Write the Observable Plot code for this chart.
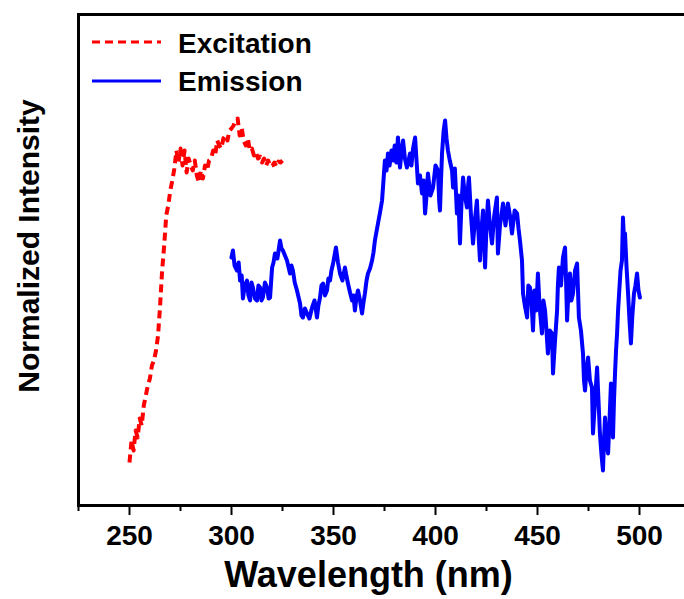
<!DOCTYPE html>
<html><head><meta charset="utf-8">
<script src="https://cdn.jsdelivr.net/npm/d3@7"></script>
<script src="https://cdn.jsdelivr.net/npm/@observablehq/plot@0.6"></script>
<style>
body{margin:0;background:#fff;overflow:hidden}
#chart{width:684px;height:599px;overflow:hidden}
</style>
</head><body><div id="chart"></div>
<script>
// ---- data ----
const excitationWavelength = [250,251,252,253,254,255,256,257,258,259,260,261,262,263,264,265,266,267,268,269,270,271,272,273,274,275,276,277,278,279,280,281,282,283,284,285,286,287,288,289,290,291,292,293,294,295,296,297,298,299,300,301,302,303,304,305,306,307,308,309,310,311,312,313,314,315,316,317,318,319,320,321,322,323,324,325];
const excitationIntensity = [43,65,55,75,68,87,80,100,110,120,127,140,145,155,170,200,235,260,290,300,315,325,337,355,343,357,340,355,333,347,340,335,345,330,323,335,327,340,335,345,347,355,350,365,360,357,367,370,365,375,377,380,385,387,370,377,365,360,367,355,357,350,353,347,349,343,347,340,345,339,340,343,339,344,343,345];

const emission = [
[300.0,248],[300.7,255],[301.5,240],[302.7,235],[303.5,243],[304.2,225],[305.0,230],[305.6,207],[306.5,220],[307.6,225],
[308.3,210],[309.1,205],[309.8,223],[310.5,218],[311.5,207],[312.5,205],[313.2,220],[314.0,218],[314.7,205],[315.4,208],
[316.4,223],[317.4,218],[318.2,207],[318.9,208],[319.9,238],[320.6,243],[321.3,252],[322.5,247],[323.8,265],[324.5,257],
[325.2,255],[326.2,250],[327.2,245],[328.7,232],[329.4,240],[330.1,235],[331.0,223],[332.1,215],[333.6,202],[334.3,190],
[335.0,188],[336.0,197],[337.0,192],[338.2,187],[339.5,198],[340.7,205],[341.9,188],[342.6,200],[343.4,208],[344.1,220],
[344.9,222],[345.8,210],[346.8,215],[347.5,227],[348.3,225],[349.0,235],[349.8,242],[350.5,250],[351.2,258],[352.2,243],
[353.2,232],[354.4,225],[355.6,238],[356.3,230],[357.1,222],[358.1,213],[359.1,205],[359.8,210],[360.5,195],[361.2,207],
[362.0,215],[363.0,205],[364.0,192],[364.7,203],[365.4,212],[366.2,225],[366.9,232],[367.9,237],[368.9,245],[369.6,253],
[370.3,265],[371.0,273],[371.8,282],[372.8,293],[373.8,305],[374.5,325],[375.2,345],[376.0,335],[376.7,352],[377.5,340],
[378.4,355],[379.2,345],[380.0,360],[380.8,343],[381.6,368],[382.2,350],[382.6,338],[383.4,355],[384.1,365],[385.0,347],
[386.0,338],[386.8,345],[387.5,352],[388.2,340],[389.0,357],[390.0,368],[390.7,345],[391.4,322],[392.4,330],[393.4,312],
[394.2,325],[394.9,292],[395.6,310],[396.3,332],[397.5,310],[398.8,318],[400.0,340],[401.2,335],[401.8,305],[402.2,295],
[402.7,325],[403.2,352],[404.0,375],[404.7,385],[405.4,367],[406.1,355],[407.0,345],[408.1,335],[408.6,318],[409.5,337],
[410.5,292],[411.2,310],[412.0,262],[412.7,300],[413.5,328],[414.4,310],[415.4,298],[416.0,320],[416.4,328],[417.4,290],
[418.4,262],[419.3,285],[420.3,305],[421.0,275],[421.8,245],[422.5,275],[423.3,295],[424.3,238],[425.0,280],[425.7,305],
[426.7,280],[427.7,262],[428.8,290],[430.1,308],[430.6,252],[431.6,280],[433.1,302],[434.3,280],[435.5,302],[436.5,290],
[437.5,272],[438.8,295],[440.0,292],[440.7,277],[441.4,265],[442.4,245],[442.9,212],[443.8,200],[444.9,188],[445.5,220],
[446.3,218],[447.0,205],[447.8,175],[448.5,215],[449.4,195],[450.2,232],[451.0,200],[452.2,172],[452.9,205],[453.7,195],
[454.4,175],[455.1,152],[456.0,175],[457.1,172],[457.6,132],[458.6,165],[459.6,195],[460.0,220],[460.5,238],[461.5,220],
[462.5,248],[463.5,258],[464.0,225],[464.5,185],[465.2,215],[465.9,232],[466.6,205],[467.4,212],[468.4,235],[469.4,242],
[470.3,188],[471.3,175],[472.3,152],[472.8,125],[473.3,115],[474.0,135],[474.8,148],[475.7,125],[476.7,118],[477.2,72],
[478.2,105],[479.2,138],[479.9,105],[480.6,72],[481.4,50],[482.1,35],[482.6,65],[483.1,88],[483.8,65],[484.6,52],
[485.3,85],[486.0,122],[486.5,95],[487.0,68],[487.5,105],[488.0,132],[488.5,155],[489.0,172],[489.5,195],[490.0,212],
[490.7,235],[491.4,245],[491.9,288],[492.4,265],[492.9,272],[493.6,240],[494.4,212],[495.1,185],[495.8,162],[496.5,190],
[497.3,212],[498.0,220],[498.8,232],[499.5,215],[500.2,208]
];

const majorTicks = [250,300,350,400,450,500];
const minorTicks = [225,275,325,375,425,475,525];
const xDomain = [225,525];
const yDomain = [0,491];
const seriesNames = ["Excitation","Emission"];
const seriesColors = ["#ff0000","#0000ff"];
const xTitle = "Wavelength (nm)";
const yTitle = "Normalized Intensity";

const excitation = excitationWavelength.map((w,i)=>({w, v: excitationIntensity[i]}));
const emissionData = emission.map(([w,v])=>({w, v}));

const FONT = "'Liberation Sans', Arial, Helvetica, sans-serif";

const chart = Plot.plot({
  width: 684, height: 599,
  marginLeft: 78, marginRight: -6, marginTop: 14, marginBottom: 94,
  style: {fontFamily: FONT, fontWeight: "bold", background: "#fff", color: "#000"},
  x: {domain: xDomain},
  y: {domain: yDomain, axis: null},
  marks: [
    Plot.line(excitation, {x: "w", y: "v", stroke: seriesColors[0], strokeWidth: 4, strokeDasharray: "8,5", strokeLinecap: "butt"}),
    Plot.line(emissionData, {x: "w", y: "v", stroke: seriesColors[1], strokeWidth: 4}),
    Plot.axisX({ticks: minorTicks, tickSize: 6, fill: "none", strokeWidth: 2, label: null}),
    Plot.axisX({ticks: majorTicks, tickSize: 10, tickPadding: 10, fontSize: 28, strokeWidth: 2, label: null}),
    Plot.frame({stroke: "#000", strokeWidth: 3}),
    Plot.text([xTitle], {text: d => d, frameAnchor: "bottom", textAnchor: "middle", lineAnchor: "middle", dx: -16, dy: 70, fontSize: 36, fontWeight: "bold", fill: "#000"}),
    Plot.text([yTitle], {text: d => d, frameAnchor: "left", textAnchor: "middle", lineAnchor: "middle", rotate: -90, dx: -49, dy: -14, fontSize: 30, fontWeight: "bold", fill: "#000"})
  ]
});

// legend (layout only)
const svg = d3.select(chart);
const lg = svg.append("g").attr("font-family", FONT).attr("font-weight", "bold").attr("font-size", 28).attr("text-anchor", "start");
const rows = [{y: 42, base: 53, dash: "8,5"}, {y: 81, base: 91, dash: null}];
seriesNames.forEach((name, i) => {
  const r = rows[i];
  const ln = lg.append("line").attr("x1", 92).attr("x2", 161).attr("y1", r.y).attr("y2", r.y)
    .attr("stroke", seriesColors[i]).attr("stroke-width", 3);
  if (r.dash) ln.attr("stroke-dasharray", r.dash);
  lg.append("text").attr("x", 178).attr("y", r.base).attr("fill", "#000").text(name);
});

document.getElementById("chart").appendChild(chart);
</script>
</body></html>
